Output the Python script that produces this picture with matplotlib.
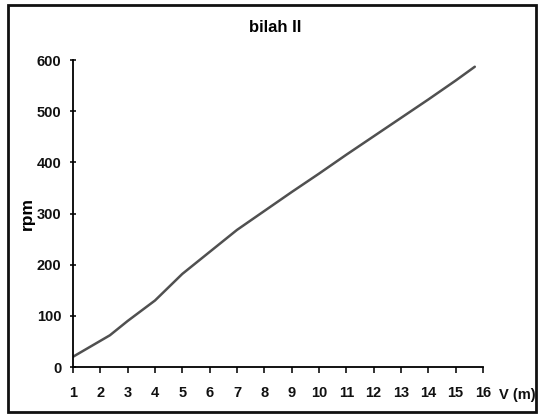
import matplotlib
matplotlib.use('Agg')
import matplotlib.pyplot as plt
from matplotlib.patches import Rectangle

# data
v = [1, 2.35, 3, 4, 5, 6, 7, 8, 9, 10, 11, 12, 13, 14, 15, 15.7]
rpm = [20, 62, 90, 130, 182, 225, 268, 305, 342, 378, 415, 451, 487, 523, 560, 587]
x_ticks = list(range(1, 17))
y_ticks = [0, 100, 200, 300, 400, 500, 600]

plt.rcParams['font.family'] = ['Liberation Sans', 'DejaVu Sans']

fig = plt.figure(figsize=(5.39, 4.17), dpi=100)
ax = fig.add_axes([0.1354, 0.1199, 0.7607, 0.736])

ax.plot(v, rpm, color='#505050', linewidth=1.8, solid_capstyle='round')

ax.set_xlim(1, 16)
ax.set_ylim(0, 600)
ax.set_xticks(x_ticks)
ax.set_yticks(y_ticks)
ax.tick_params(axis='x', direction='out', length=4, width=1.2,
               labelsize=10.5, pad=10, colors='#111111')
ax.tick_params(axis='y', direction='inout', length=5, width=1.2,
               labelsize=10.5, pad=6, colors='#111111')
for lab in ax.get_xticklabels() + ax.get_yticklabels():
    lab.set_fontweight('bold')

ax.spines['right'].set_visible(False)
ax.spines['top'].set_visible(False)
ax.spines['left'].set_linewidth(1.3)
ax.spines['bottom'].set_linewidth(1.3)

ax.set_ylabel('rpm', fontsize=12.5, fontweight='bold')
ax.yaxis.set_label_coords(-0.092, 0.5)
ax.text(1.04, -0.09, 'V (m)', transform=ax.transAxes, fontsize=10.5,
        fontweight='bold', ha='left', va='center', color='#111111')

fig.text(0.51, 0.935, 'bilah II', ha='center', va='center',
         fontsize=12, fontweight='bold')

# outer frame
fig.patches.append(Rectangle((8 / 539, 5 / 417), 528 / 539, 407 / 417,
                             transform=fig.transFigure, fill=False,
                             edgecolor='#111111', linewidth=2))

fig.savefig('out.png', dpi=100)
